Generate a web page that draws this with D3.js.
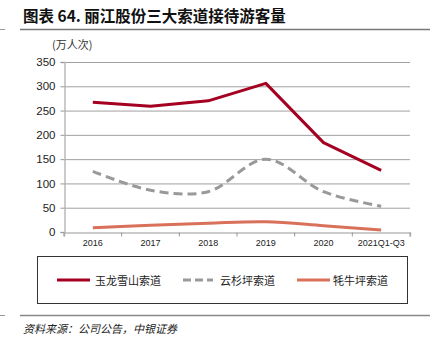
<!DOCTYPE html>
<html><head><meta charset="utf-8">
<script src="https://cdn.jsdelivr.net/npm/d3@7"></script>
<style>body{margin:0;background:#fff;}svg{display:block;}</style>
</head><body><svg id="c" width="438" height="355"></svg>
<script>
const categories = ["2016","2017","2018","2019","2020","2021Q1-Q3"];
const yulong = [267, 259, 270, 306, 184, 127];
const yunshan = [125, 86, 83, 150, 83, 53];
const maoniu = [9, 14, 18, 21, 13, 4];
const yTicks = [0,50,100,150,200,250,300,350];
const seriesNames = ["玉龙雪山索道","云杉坪索道","牦牛坪索道"];

const svg = d3.select("#c");
const cjk = "'Noto Sans CJK SC', sans-serif";
const latin = "'Liberation Sans', Arial, sans-serif";

// title
svg.append("text").attr("x",23).attr("y",22).attr("font-family",cjk).attr("font-weight","bold")
  .attr("font-size",15.5).attr("fill","#111").text("图表 64. 丽江股份三大索道接待游客量");
svg.append("line").attr("x1",20).attr("x2",430).attr("y1",29.5).attr("y2",29.5).attr("stroke","#777").attr("stroke-width",1.5);
svg.append("line").attr("x1",0).attr("x2",5).attr("y1",29.5).attr("y2",29.5).attr("stroke","#999").attr("stroke-width",1);

svg.append("text").attr("x",52).attr("y",49).attr("font-family",cjk).attr("font-size",11).attr("fill","#333").text("(万人次)");

const x = d3.scaleBand().domain(categories).range([64,410]);
const y = d3.scaleLinear().domain([0,350]).range([232,62]);

// gridlines
svg.append("g").selectAll("line").data(yTicks.filter(d=>d>0)).join("line")
  .attr("x1",64).attr("x2",410).attr("y1",d=>y(d)+0.5).attr("y2",d=>y(d)+0.5)
  .attr("stroke","#a0a0a0").attr("stroke-width",1);

const yAxis = svg.append("g").attr("transform","translate(64.5,0)")
  .call(d3.axisLeft(y).tickValues(yTicks).tickSize(4).tickPadding(5));
yAxis.select(".domain").attr("stroke","#bbb").attr("stroke-width",1.5);
yAxis.selectAll(".tick line").attr("stroke","#999");
yAxis.selectAll("text").attr("font-family",latin).attr("font-size",11.5).attr("fill","#222");

const xAxis = svg.append("g").attr("transform","translate(0,232.5)")
  .call(d3.axisBottom(x).tickSize(4).tickPadding(3));
xAxis.select(".domain").attr("stroke","#bbb").attr("stroke-width",1.5);
xAxis.selectAll(".tick line").attr("stroke","#999").attr("transform",`translate(${-x.bandwidth()/2},0)`);
xAxis.append("line").attr("x1",410).attr("x2",410).attr("y1",0).attr("y2",4).attr("stroke","#999");
xAxis.selectAll("text").attr("font-family",latin).attr("font-size",9).attr("fill","#222");

const cx = d => x(d)+x.bandwidth()/2;
const lineStraight = d3.line().x((d,i)=>cx(categories[i])).y(d=>y(d));
const lineSmooth = d3.line().x((d,i)=>cx(categories[i])).y(d=>y(d)).curve(d3.curveCatmullRom.alpha(0.5));

svg.append("path").datum(maoniu).attr("d",lineSmooth).attr("fill","none").attr("stroke","#D9705A").attr("stroke-width",3);
svg.append("path").datum(yunshan).attr("d",lineSmooth).attr("fill","none").attr("stroke","#999").attr("stroke-width",3).attr("stroke-dasharray","9,5");
svg.append("path").datum(yulong).attr("d",lineStraight).attr("fill","none").attr("stroke","#A50021").attr("stroke-width",3).attr("stroke-linejoin","round");

// legend
svg.append("rect").attr("x",37.5).attr("y",256.5).attr("width",370).attr("height",47).attr("fill","none").attr("stroke","#333").attr("stroke-width",1);
const leg = [
  {x1:57,x2:90,tx:95,color:"#A50021",dash:null},
  {x1:183,x2:213,tx:220,color:"#999",dash:"8,4"},
  {x1:297,x2:330,tx:333,color:"#D9705A",dash:null}
];
leg.forEach((l,i)=>{
  svg.append("line").attr("x1",l.x1).attr("x2",l.x2).attr("y1",280).attr("y2",280).attr("stroke",l.color).attr("stroke-width",3).attr("stroke-dasharray",l.dash);
  svg.append("text").attr("x",l.tx).attr("y",284.5).attr("font-family","'Noto Sans CJK SC', serif").attr("font-size",11).attr("fill","#222").text(seriesNames[i]);
});

svg.append("line").attr("x1",20).attr("x2",430).attr("y1",315.5).attr("y2",315.5).attr("stroke","#888").attr("stroke-width",1.5);
svg.append("line").attr("x1",0).attr("x2",5).attr("y1",315.5).attr("y2",315.5).attr("stroke","#999").attr("stroke-width",1);
svg.append("text").attr("x",23).attr("y",333).attr("font-family",cjk).attr("font-style","italic").attr("font-size",11).attr("fill","#222")
  .text("资料来源：公司公告，中银证券");
</script></body></html>
